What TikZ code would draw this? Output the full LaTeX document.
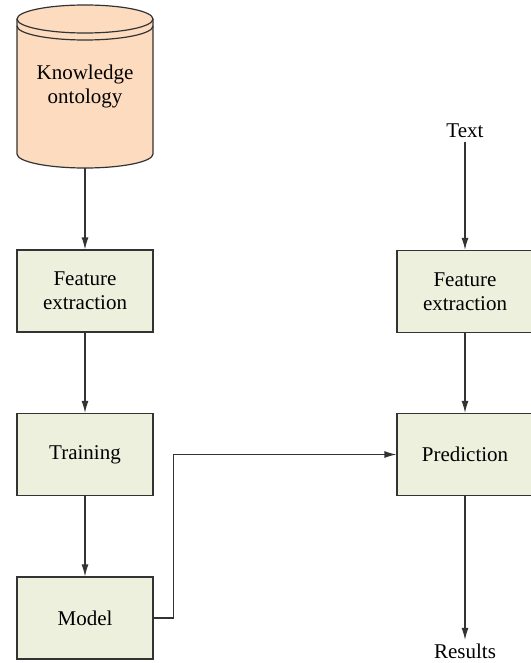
\documentclass[tikz,border=0pt]{standalone}
\usepackage{fontspec}
\setmainfont{Liberation Serif}
\usetikzlibrary{
    arrows.meta
}
\definecolor{ontofill}{HTML}{FCDBBF}
\definecolor{boxfill}{HTML}{EEF0DE}
\definecolor{linegray}{HTML}{333333}
\tikzset{
    block/.style={draw=linegray, fill=boxfill, line width=1.2pt, minimum width=136pt, minimum height=82pt, align=center, inner sep=0pt},
    flow/.style={draw=linegray, line width=1.2pt, -{Latex[length=12pt, width=7pt]}}
}

\begin{document}
\begin{tikzpicture}[x=1pt, y=1pt, font=\fontsize{21}{24}\selectfont]
                        \useasboundingbox (0, 0) rectangle (530, -663);

                        \filldraw[draw=linegray, fill=ontofill, line width=1.2pt] (17, -19) -- (17, -154) arc[start angle=180, end angle=360, x radius=68, y radius=14] -- (153, -19) arc[start angle=0, end angle=180, x radius=68, y radius=14] -- cycle;
                        \draw[linegray, line width=1.2pt] (17, -19) arc[start angle=180, end angle=360, x radius=68, y radius=14];
                        \draw[linegray, line width=1.2pt] (17, -26) arc[start angle=180, end angle=360, x radius=68, y radius=14];
                        \node[minimum width=136pt, minimum height=163pt, align=center] (onto) at (85, -86.5) {Knowledge\\ontology};

                        \node[block] (featL) at (85, -291) {Feature\\extraction};
                        \node[block] (train) at (85, -454.5) {Training};
                        \node[block] (model) at (85, -618) {Model};

                        \node[anchor=base] (txt) at (465, -138) {Text};
                        \node[block] (featR) at (465, -291.5) {Feature\\extraction};
                        \node[block] (pred) at (465, -454.5) {Prediction};
                        \node[anchor=base] (res) at (465, -658) {Results};

                        \draw[flow] (onto.south) -- (featL.north);
                        \draw[flow] (featL.south) -- (train.north);
                        \draw[flow] (train.south) -- (model.north);
                        \draw[flow] (txt.south) -- (featR.north);
                        \draw[flow] (featR.south) -- (pred.north);
                        \draw[flow] (pred.south) -- (res.north);
                        \draw[flow] (model.east) -- ++(20, 0) |- (pred.west);
                    \end{tikzpicture}
\end{document}
